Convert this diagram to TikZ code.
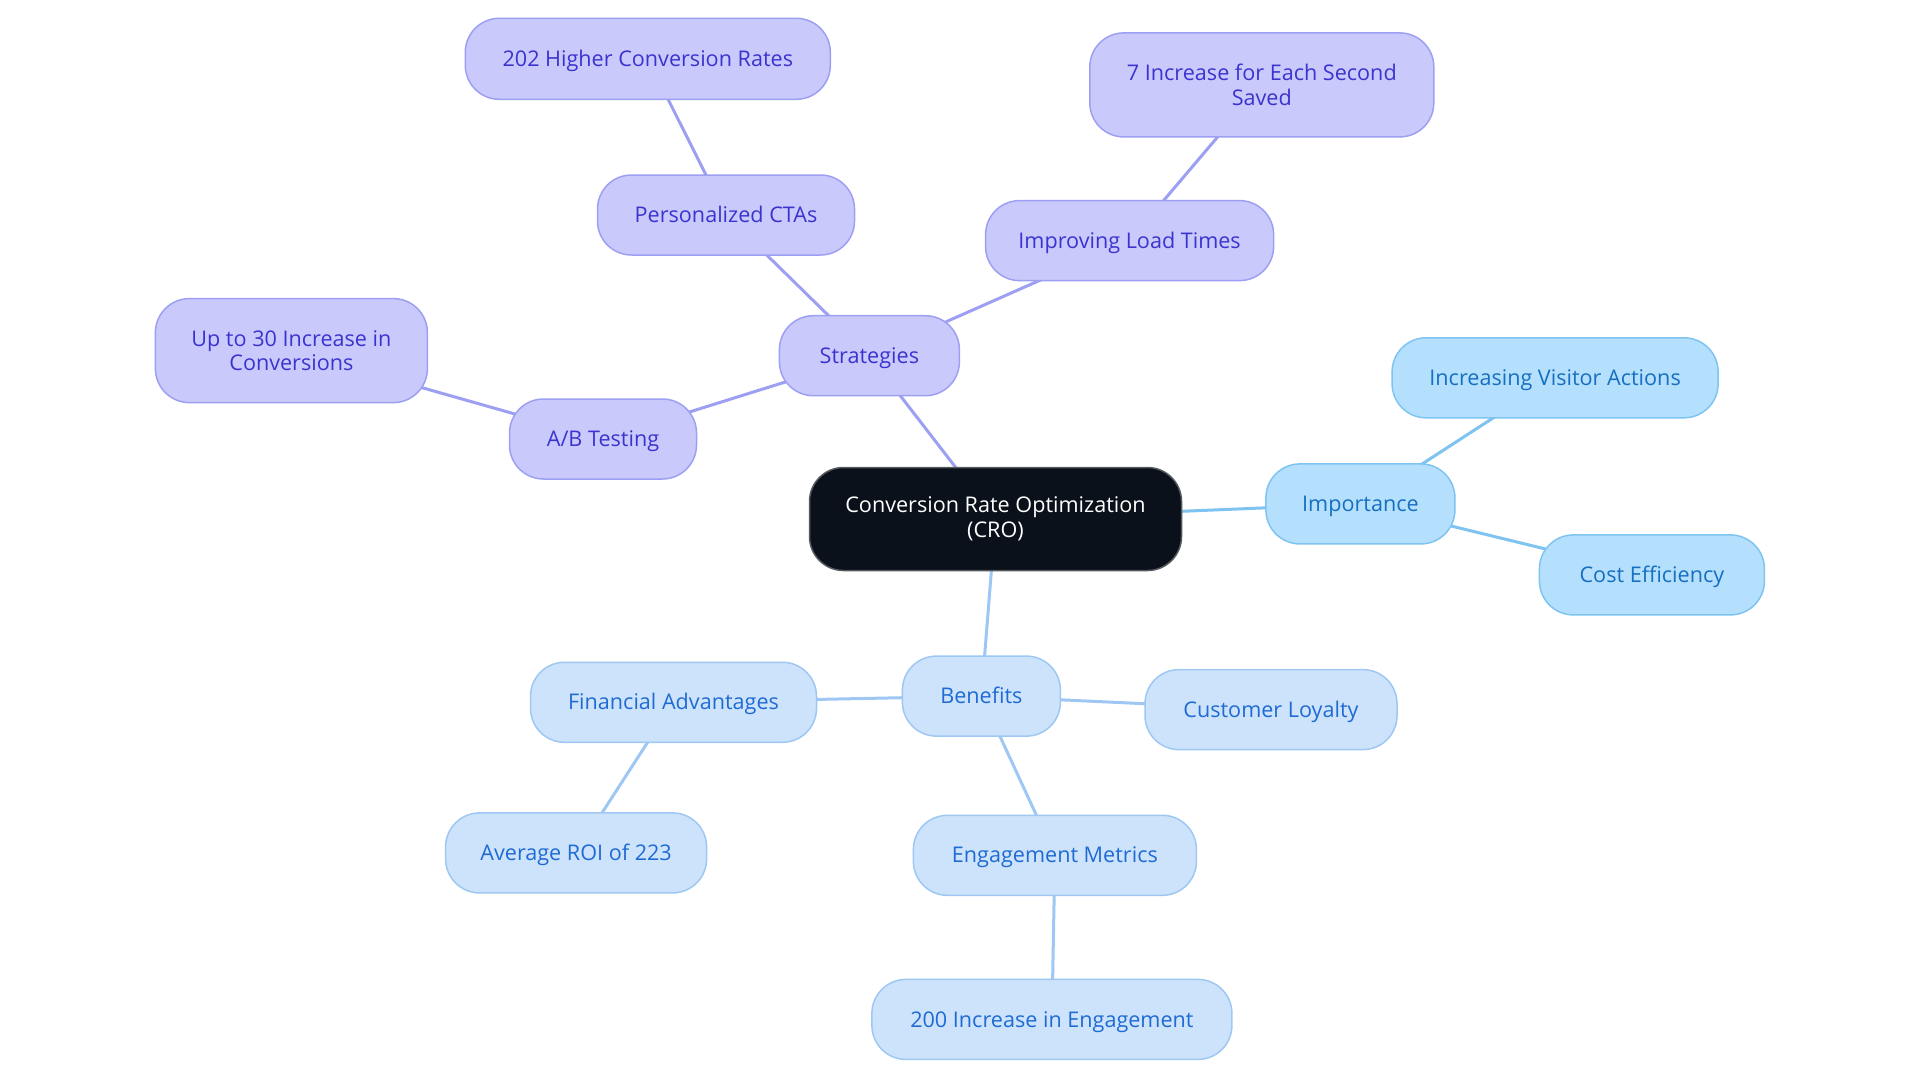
\documentclass[tikz,border=0pt]{standalone}
\usepackage{fontspec}
\setmainfont{Open Sans}
\usetikzlibrary{backgrounds}
\definecolor{pfill}{HTML}{C9CAFB}
\definecolor{pdraw}{HTML}{9DA0F2}
\definecolor{ptext}{HTML}{3B33CF}
\definecolor{bfill}{HTML}{B4E0FD}
\definecolor{bdraw}{HTML}{7FC4F1}
\definecolor{btext}{HTML}{176FC0}
\definecolor{cfill}{HTML}{CDE3FB}
\definecolor{cdraw}{HTML}{9EC8F3}
\definecolor{ctext}{HTML}{1F6BD3}
\definecolor{rfill}{HTML}{0B111A}
\definecolor{rdraw}{HTML}{555A60}
\begin{document}
\begin{tikzpicture}[x=0.5pt,y=-0.5pt,
  box/.style={rounded corners=17pt, draw, line width=0.75pt, inner sep=0pt, align=center,
    minimum height=40pt, font=\fontsize{10.8}{12.25}\selectfont},
  oneline/.style={text height=8.4pt, text depth=0.8pt},
  ptwo/.style={box, fill=pfill, draw=pdraw, text=ptext},
  pbox/.style={ptwo, oneline},
  bbox/.style={box, oneline, fill=bfill, draw=bdraw, text=btext},
  cbox/.style={box, oneline, fill=cfill, draw=cdraw, text=ctext},
  rootbox/.style={box, fill=rfill, draw=rdraw, text=white},
  pline/.style={draw=pdraw, line width=1.5pt},
  bline/.style={draw=bdraw, line width=1.5pt},
  cline/.style={draw=cdraw, line width=1.5pt}]
\useasboundingbox (0,0) rectangle (1920,1083);
% nodes
\node[rootbox, minimum width=186pt, minimum height=51.5pt] (cro) at (995.5,519) {Conversion Rate Optimization\\(CRO)};
\node[pbox, minimum width=90pt] (str) at (869.4,355.7) {Strategies};
\node[pbox, minimum width=93.5pt] (ab) at (603,439) {A/B Testing};
\node[ptwo, minimum width=136pt, minimum height=52pt] (up) at (291.4,350.6) {Up to 30 Increase in\\Conversions};
\node[pbox, minimum width=128.5pt] (cta) at (726,215) {Personalized CTAs};
\node[pbox, minimum width=182.5pt, minimum height=40.5pt] (hcr) at (647.8,58.8) {202 Higher Conversion Rates};
\node[pbox, minimum width=144pt] (load) at (1129.6,240.6) {Improving Load Times};
\node[ptwo, minimum width=172pt, minimum height=52pt] (sec) at (1261.8,84.9) {7 Increase for Each Second\\Saved};
\node[bbox, minimum width=94.5pt] (imp) at (1360.4,503.9) {Importance};
\node[bbox, minimum width=163pt] (vis) at (1555.1,377.8) {Increasing Visitor Actions};
\node[bbox, minimum width=112.5pt] (cost) at (1651.9,574.9) {Cost Efficiency};
\node[cbox, minimum width=79pt] (ben) at (981.4,696.1) {Benefits};
\node[cbox, minimum width=143pt] (fin) at (673.5,702.3) {Financial Advantages};
\node[cbox, minimum width=130.5pt] (roi) at (576.1,852.9) {Average ROI of 223};
\node[cbox, minimum width=126pt] (loy) at (1271,709.6) {Customer Loyalty};
\node[cbox, minimum width=141.5pt] (eng) at (1054.9,855.3) {Engagement Metrics};
\node[cbox, minimum width=180pt] (eng2) at (1051.9,1019.4) {200 Increase in Engagement};
% connectors
\begin{scope}[on background layer]
\fill[white] (0,0) rectangle (1920,1083);
\draw[pline] (cro.center) -- (str.center);
\draw[pline] (str.center) -- (ab.center);
\draw[pline] (ab.center) -- (up.center);
\draw[pline] (str.center) -- (cta.center);
\draw[pline] (cta.center) -- (hcr.center);
\draw[pline] (str.center) -- (load.center);
\draw[pline] (load.center) -- (sec.center);
\draw[bline] (cro.center) -- (imp.center);
\draw[bline] (imp.center) -- (vis.center);
\draw[bline] (imp.center) -- (cost.center);
\draw[cline] (cro.center) -- (ben.center);
\draw[cline] (ben.center) -- (fin.center);
\draw[cline] (fin.center) -- (roi.center);
\draw[cline] (ben.center) -- (loy.center);
\draw[cline] (ben.center) -- (eng.center);
\draw[cline] (eng.center) -- (eng2.center);
\end{scope}
\end{tikzpicture}
\end{document}
